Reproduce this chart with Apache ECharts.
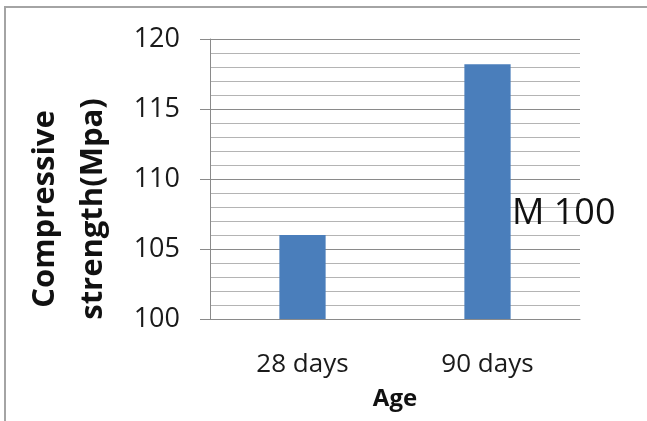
<!DOCTYPE html>
<html>
<head>
<meta charset="utf-8">
<script src="https://cdn.jsdelivr.net/npm/echarts@6/dist/echarts.min.js"></script>
<style>
  html, body { margin: 0; padding: 0; background: #ffffff; }
  #chart { width: 647px; height: 421px; }
</style>
</head>
<body>
<div id="chart"></div>
<script>
// Compressive strength of M 100 concrete at two curing ages
const categories = ['28 days', '90 days'];
const seriesName = 'M 100';
const strengthValues = [106.0, 118.2];
const yTicks = { min: 100, max: 120, step: 5 };

const chart = echarts.init(document.getElementById('chart'), null, { renderer: 'canvas' });

chart.setOption({
  backgroundColor: '#ffffff',
  animation: false,
  graphic: [{
    type: 'rect',
    shape: { x: 5, y: 7, width: 700, height: 500 },
    style: { fill: 'none', stroke: '#a4a4a4', lineWidth: 2 },
    silent: true
  }],
  legend: {
    show: true,
    left: 507,
    top: 196,
    padding: 0,
    itemWidth: 0,
    itemHeight: 0,
    icon: 'none',
    selectedMode: false,
    data: [seriesName],
    textStyle: {
      fontFamily: 'Open Sans',
      fontSize: 36,
      color: '#111111'
    }
  },
  grid: {
    left: 210,
    right: 67,
    top: 39,
    bottom: 102,
    containLabel: false
  },
  xAxis: {
    type: 'category',
    data: categories,
    name: 'Age',
    nameLocation: 'middle',
    nameGap: 68,
    nameTextStyle: {
      fontFamily: 'Open Sans',
      fontWeight: 'bold',
      fontSize: 24,
      color: '#111111'
    },
    axisLine: { show: true, lineStyle: { color: '#8a8a8a', width: 1 } },
    axisTick: { show: false },
    axisLabel: {
      margin: 33,
      fontFamily: 'Open Sans',
      fontSize: 26,
      color: '#1a1a1a'
    }
  },
  yAxis: {
    type: 'value',
    min: yTicks.min,
    max: yTicks.max,
    interval: yTicks.step,
    name: 'Compressive\nstrength(Mpa)',
    nameLocation: 'middle',
    nameRotate: 90,
    nameGap: 93,
    nameTextStyle: {
      fontFamily: 'Open Sans',
      fontWeight: 'bold',
      fontSize: 31,
      lineHeight: 48,
      padding: [0, 60, 0, 0],
      color: '#111111'
    },
    axisLine: { show: true, lineStyle: { color: '#8a8a8a', width: 1 } },
    axisTick: { show: true, length: 10, inside: false, lineStyle: { color: '#8a8a8a' } },
    minorTick: { show: false, splitNumber: 5 },
    axisLabel: {
      margin: 30,
      fontFamily: 'Open Sans',
      fontSize: 27,
      color: '#1a1a1a'
    },
    splitLine: { show: true, lineStyle: { color: '#8a8a8a', width: 1 } },
    minorSplitLine: { show: true, lineStyle: { color: '#b4b4b4', width: 1 } }
  },
  series: [{
    name: seriesName,
    type: 'bar',
    data: strengthValues,
    barWidth: '25%',
    itemStyle: { color: '#4a7ebb' },
    label: { show: false }
  }]
});
</script>
</body>
</html>
